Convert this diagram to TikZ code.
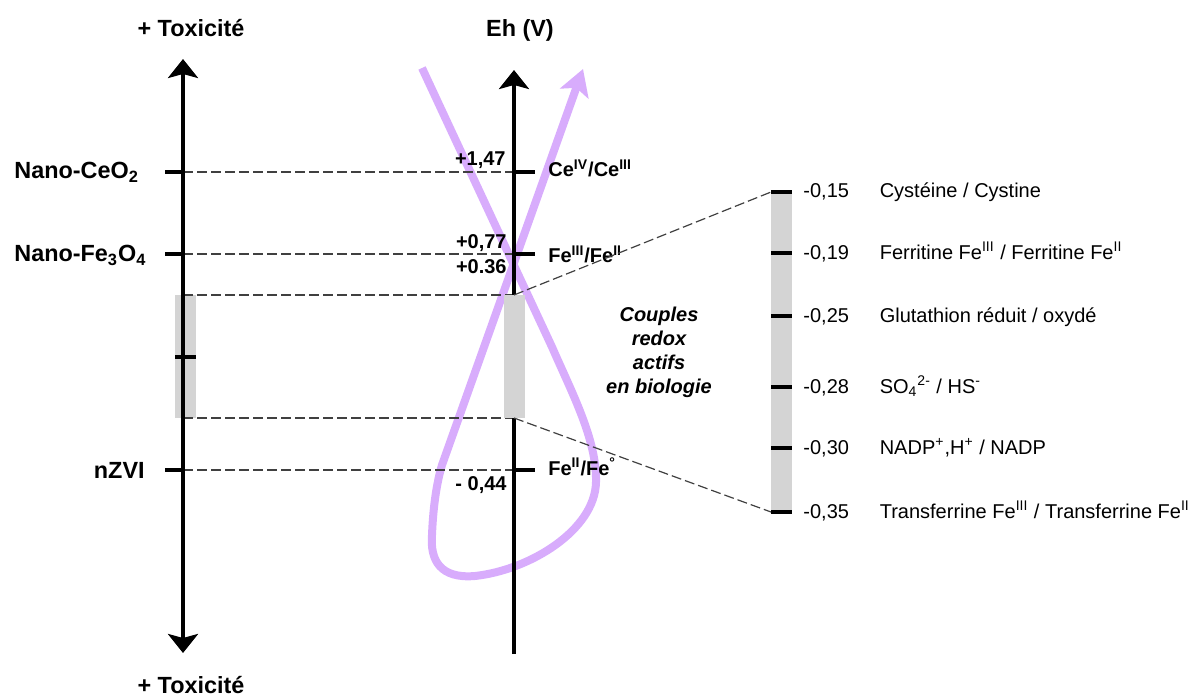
\documentclass[tikz,border=0pt]{standalone}
\usepackage{fontspec}
\setmainfont{Liberation Sans}
\usepackage{xcolor}
\definecolor{lilac}{RGB}{216,172,252}
\definecolor{bandgray}{RGB}{212,212,212}
\usepackage{tikz}
\usetikzlibrary{
    arrows.meta,
    positioning
}
\tikzset{
    axisline/.style  = {line width=2pt, draw=black},
    axisarrow/.style = {axisline, -{Stealth[length=9.5pt, width=15pt, inset=2pt]}},
    tickmark/.style  = {line width=1.8pt, draw=black},
    guide/.style     = {draw=black!75, line width=0.6pt, dash pattern=on 5pt off 2pt},
    band/.style      = {fill=bandgray, draw=none},
    redoxloop/.style = {draw=lilac, line width=4pt,
                        -{Stealth[length=13pt, width=15pt, inset=3pt]}},
    biglabel/.style  = {font=\fontsize{11.7}{14}\selectfont\bfseries, inner sep=0pt},
    potval/.style    = {font=\fontsize{10}{12}\selectfont\bfseries, inner sep=0pt},
    biotext/.style   = {font=\fontsize{10}{11.9}\selectfont\bfseries\itshape,
                        align=center, inner sep=0pt},
    bioval/.style    = {font=\fontsize{10}{12}\selectfont, inner sep=0pt}
}

\begin{document}
\begin{tikzpicture}[x=0.5pt, y=-0.5pt]
\useasboundingbox (0,0) rectangle (1198,695);

% ===== Redox loop (behind everything) =====
\draw[redoxloop] (422,68) -- (552,347)
   .. controls (572,393) and (597,440) .. (596,482)
   .. controls (595,530) and (530,570) .. (475,576)
   .. controls (440,579) and (430,560) .. (432,535)
   .. controls (433,510) and (436,485) .. (442,465)
   -- (583,69);

% ===== Axis anchor points =====
\coordinate (toxUp)   at (183,59);
\coordinate (toxDown) at (183,653);
\coordinate (ehUp)    at (514,70);
\coordinate (ehDown)  at (514,654);

\coordinate (tCe)  at (183,172);  \coordinate (eCe)  at (514,172);
\coordinate (tFe)  at (183,254);  \coordinate (eFe)  at (514,254);
\coordinate (tBtop) at (183,295); \coordinate (eBtop) at (514,295);
\coordinate (tBbot) at (183,418); \coordinate (eBbot) at (514,418);
\coordinate (tZvi) at (183,470);  \coordinate (eZvi) at (514,470);

% ===== Toxicity band (behind the axis) =====
\fill[band] (175,295) rectangle (196,418);

% ===== Dashed guides =====
\draw[guide] (tCe)   -- (eCe);
\draw[guide] (tFe)   -- (eFe);
\draw[guide] (tBtop) -- (eBtop);
\draw[guide] (tBbot) -- (eBbot);
\draw[guide] (tZvi)  -- (eZvi);

% ===== Axes =====
\draw[axisline, {Stealth[length=9.5pt, width=15pt, inset=2pt]}-{Stealth[length=9.5pt, width=15pt, inset=2pt]}]
   (toxDown) -- (toxUp);
\draw[axisarrow] (ehDown) -- (ehUp);

% ===== Eh band (over the axis) =====
\fill[band] (504,295) rectangle (525,418);

% ===== Ticks =====
\draw[tickmark] (165,172) -- (tCe);
\draw[tickmark] (165,254) -- (tFe);
\draw[tickmark] (175,357) -- (196,357);
\draw[tickmark] (165,470) -- (tZvi);
\draw[tickmark] (eCe)  -- (535,172);
\draw[tickmark] (eFe)  -- (535,254);
\draw[tickmark] (eZvi) -- (535,470);

% ===== Titles =====
\node[biglabel, anchor=base] (toxTop) at (191,37)  {+ Toxicité};
\node[biglabel, anchor=base] (toxBot) at (191,693) {+ Toxicité};
\node[biglabel, anchor=base] (ehTitle) at (520,37) {Eh (V)};

% ===== Nanoparticles =====
\node[biglabel, anchor=base west] (nanoCe) at (14,179) {Nano-CeO\textsubscript{2}};
\node[biglabel, anchor=base west] (nanoFe) at (14,262) {Nano-Fe\textsubscript{3}O\textsubscript{4}};
\node[biglabel, anchor=base east] (nzvi)   at (145,478) {nZVI};

% ===== Potentials and couples =====
\node[potval, anchor=base east] (v147) at (506,166) {+1,47};
\node[potval, anchor=base east] (v077) at (507,249) {+0,77};
\node[potval, anchor=base east] (v036) at (507,273) {+0.36};
\node[potval, anchor=base east] (v044) at (507,490) {- 0,44};

\node[potval, anchor=base west] (ceCpl)  at (548,177) {Ce\textsuperscript{IV}/Ce\textsuperscript{III}};
\node[potval, anchor=base west] (feCpl)  at (548,263) {Fe\textsuperscript{III}/Fe\textsuperscript{II}};
\node[potval, anchor=base west] (fe0Cpl) at (548,475) {Fe\textsuperscript{II}/Fe\textsuperscript{°}};

% ===== Biological couples =====
\node[biotext, anchor=north] (bio) at (659,307)
   {Couples\\redox\\actifs\\en biologie};

\fill[band] (771,191) rectangle (792,512);
\coordinate (b15) at (771,192);
\coordinate (b35) at (771,512);
\draw[guide] (eBtop) -- (b15);
\draw[guide] (eBbot) -- (b35);

\draw[tickmark, line width=1.6pt] (771,192) -- (792,192);
\draw[tickmark, line width=1.6pt] (771,253) -- (792,253);
\draw[tickmark, line width=1.6pt] (771,316) -- (792,316);
\draw[tickmark, line width=1.6pt] (771,387) -- (792,387);
\draw[tickmark, line width=1.6pt] (771,448) -- (792,448);
\draw[tickmark, line width=1.6pt] (771,512) -- (792,512);

\node[bioval, anchor=base west] (v15) at (803,198) {-0,15};
\node[bioval, base right=15pt of v15] (cys) {Cystéine / Cystine};
\node[bioval, anchor=base west] (v19) at (803,259) {-0,19};
\node[bioval, base right=15pt of v19] (ferr) {Ferritine Fe\textsuperscript{III} / Ferritine Fe\textsuperscript{II}};
\node[bioval, anchor=base west] (v25) at (803,322) {-0,25};
\node[bioval, base right=15pt of v25] (glu) {Glutathion réduit / oxydé};
\node[bioval, anchor=base west] (v28) at (803,393) {-0,28};
\node[bioval, base right=15pt of v28] (sulf) {SO\textsubscript{4}\textsuperscript{2-} / HS\textsuperscript{-}};
\node[bioval, anchor=base west] (v30) at (803,454) {-0,30};
\node[bioval, base right=15pt of v30] (nadp) {NADP\textsuperscript{+},H\textsuperscript{+} / NADP};
\node[bioval, anchor=base west] (v35) at (803,518) {-0,35};
\node[bioval, base right=15pt of v35] (trans) {Transferrine Fe\textsuperscript{III} / Transferrine Fe\textsuperscript{II}};

\end{tikzpicture}
\end{document}
